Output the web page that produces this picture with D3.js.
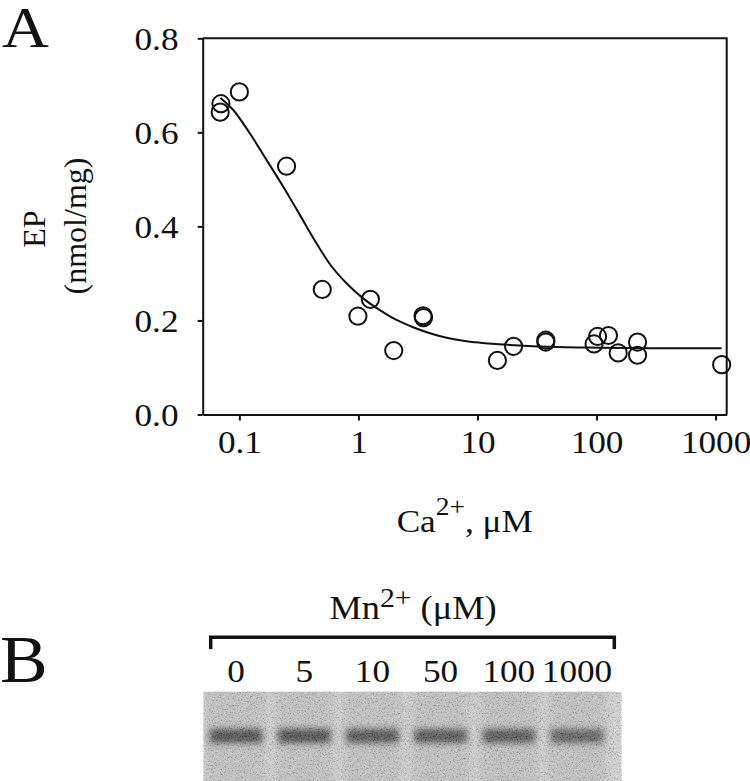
<!DOCTYPE html>
<html>
<head>
<meta charset="utf-8">
<script src="https://cdn.jsdelivr.net/npm/d3@7"></script>
<style>
  html, body { margin: 0; padding: 0; background: #fff; }
  svg { display: block; }
  text { font-family: "Liberation Serif", "Times New Roman", serif; fill: #111; }
</style>
</head>
<body>
<svg id="chart" width="750" height="781"></svg>
<script>
// ---------- Data ----------
// Panel A: measured points, Ca2+ (µM) and EP (nmol/mg)
const caConc = [0.069, 0.070, 0.100, 0.249, 0.497, 0.99, 1.26, 1.98, 3.49, 3.52,
                14.7, 20.1, 37.5, 37.5, 95.3, 102, 126, 152, 221, 221, 1125];
const epValues = [0.643, 0.661, 0.686, 0.528, 0.266, 0.209, 0.245, 0.136, 0.210, 0.206,
                  0.115, 0.145, 0.158, 0.154, 0.150, 0.166, 0.168, 0.131, 0.154, 0.126, 0.106];
// Panel A: fitted curve, sampled along the drawn line
const fitConc = [0.0693, 0.0885, 0.1223, 0.169, 0.233, 0.322, 0.4446, 0.575, 0.794, 1.095,
                 1.514, 2.09, 2.88, 3.98, 5.5, 7.59, 10.5, 18.7, 40, 107, 300, 1125];
const fitEP = [0.673, 0.648, 0.598, 0.5415, 0.4847, 0.4245, 0.364, 0.320, 0.279, 0.247,
               0.222, 0.201, 0.1855, 0.1728, 0.1634, 0.157, 0.1528, 0.148, 0.144, 0.142, 0.141, 0.141];
const xTickValues = [0.1, 1, 10, 100, 1000];
const yTickValues = [0.0, 0.2, 0.4, 0.6, 0.8];
// Panel B: gel lanes (Mn2+, µM) and relative band darkness
const mnLanes = ["0", "5", "10", "50", "100", "1000"];
const bandDarkness = [0.82, 0.82, 0.79, 0.77, 0.74, 0.70];

// ---------- Layout ----------
const svg = d3.select("#chart");
const stretch = 1.1; // horizontal glyph stretch seen in the reference
const plot = { left: 202.7, right: 726.7, top: 38.3, bottom: 414.5 };

const x = d3.scaleLog().domain([0.0492, 1240]).range([plot.left, plot.right]);
const y = d3.scaleLinear().domain([0, 0.8]).range([plot.bottom, plot.top]);

const gA = svg.append("g");

// frame (top & right)
gA.append("path")
  .attr("d", `M${plot.left},${plot.top}H${plot.right}V${plot.bottom}`)
  .attr("fill", "none").attr("stroke", "#111").attr("stroke-width", 2);

// x axis
const xAxis = d3.axisBottom(x).tickValues(xTickValues)
  .tickFormat(d => String(d)).tickSize(6).tickPadding(10).tickSizeOuter(0);
const gx = gA.append("g").attr("transform", `translate(0,${plot.bottom})`).call(xAxis);
gx.select(".domain").attr("stroke", "#111").attr("stroke-width", 2);
gx.selectAll(".tick line").attr("stroke", "#111").attr("stroke-width", 2);
gx.selectAll(".tick text")
  .attr("font-size", 32).attr("font-family", "Liberation Serif").attr("fill", "#111")
  .attr("dy", "0.71em").attr("transform", `scale(${stretch},1)`);

// y axis
const yAxis = d3.axisLeft(y).tickValues(yTickValues)
  .tickFormat(d3.format(".1f")).tickSize(5).tickPadding(17).tickSizeOuter(0);
const gy = gA.append("g").attr("transform", `translate(${plot.left},0)`).call(yAxis);
gy.select(".domain").attr("stroke", "#111").attr("stroke-width", 2);
gy.selectAll(".tick line").attr("stroke", "#111").attr("stroke-width", 2);
gy.selectAll(".tick text")
  .attr("font-size", 32).attr("font-family", "Liberation Serif").attr("fill", "#111")
  .attr("dy", "0.34em").attr("transform", `scale(${stretch},1)`);

// fitted curve
const fit = fitConc.map((c, i) => [c, fitEP[i]]);
gA.append("path")
  .datum(fit)
  .attr("fill", "none").attr("stroke", "#111").attr("stroke-width", 2)
  .attr("d", d3.line().x(d => x(d[0])).y(d => y(d[1])).curve(d3.curveMonotoneX));

// points
const pts = caConc.map((c, i) => [c, epValues[i]]);
gA.append("g").selectAll("circle").data(pts).join("circle")
  .attr("cx", d => x(d[0])).attr("cy", d => y(d[1])).attr("r", 8.6)
  .attr("fill", "none").attr("stroke", "#111").attr("stroke-width", 2);

// axis titles
const xt = gA.append("text")
  .attr("text-anchor", "middle").attr("font-size", 32)
  .attr("transform", `translate(${(plot.left + plot.right) / 2},532) scale(${stretch},1)`);
xt.append("tspan").text("Ca");
xt.append("tspan").attr("font-size", 25).attr("dy", -17).text("2+");
xt.append("tspan").attr("dy", 17).text(", μM");

gA.append("text").attr("text-anchor", "middle").attr("font-size", 32)
  .attr("transform", "translate(45,229) rotate(-90)").text("EP");
gA.append("text").attr("text-anchor", "middle").attr("font-size", 32)
  .attr("transform", "translate(86,226) rotate(-90)").text("(nmol/mg)");

// panel letters
svg.append("text").attr("font-size", 58)
  .attr("transform", `translate(2,47) scale(1.12,1)`).text("A");
svg.append("text").attr("font-size", 68)
  .attr("transform", `translate(0,681.7) scale(1.05,1)`).text("B");

// ---------- Panel B ----------
const gB = svg.append("g");
const lane = d3.scalePoint().domain(mnLanes).range([236, 577]);
const gel = { left: 203.3, right: 621.7, top: 691.7, bottom: 781 };

const mt = gB.append("text").attr("text-anchor", "middle").attr("font-size", 33)
  .attr("transform", `translate(413,619) scale(${stretch},1)`);
mt.append("tspan").text("Mn");
mt.append("tspan").attr("font-size", 27).attr("dy", -12).text("2+");
mt.append("tspan").attr("dy", 12).text(" (μM)");

gB.append("path")
  .attr("d", "M210.7,649V637.3H614.3V649")
  .attr("fill", "none").attr("stroke", "#111").attr("stroke-width", 3.5);

gB.selectAll("text.lane").data(mnLanes).join("text")
  .attr("class", "lane").attr("text-anchor", "middle").attr("font-size", 32)
  .attr("transform", d => `translate(${lane(d)},681.7) scale(${stretch},1)`)
  .text(d => d);

// gel image
const defs = svg.append("defs");
defs.append("clipPath").attr("id", "gelClip").append("rect")
  .attr("x", gel.left).attr("y", gel.top)
  .attr("width", gel.right - gel.left).attr("height", gel.bottom - gel.top);
defs.append("filter").attr("id", "blurLane").attr("x", "-30%").attr("y", "-20%")
  .attr("width", "160%").attr("height", "140%")
  .append("feGaussianBlur").attr("stdDeviation", 4.5);
defs.append("filter").attr("id", "blurBand").attr("x", "-30%").attr("y", "-100%")
  .attr("width", "160%").attr("height", "300%")
  .append("feGaussianBlur").attr("stdDeviation", "3.5,3.2");
const noise = defs.append("filter").attr("id", "noise")
  .attr("x", 0).attr("y", 0).attr("width", "100%").attr("height", "100%");
noise.append("feTurbulence").attr("type", "fractalNoise")
  .attr("baseFrequency", 0.75).attr("numOctaves", 2).attr("seed", 7).attr("result", "t");
noise.append("feColorMatrix").attr("in", "t").attr("type", "matrix")
  .attr("values", "2.2 0 0 0 -0.6  2.2 0 0 0 -0.6  2.2 0 0 0 -0.6  0 0 0 0 0.55");

const gg = gB.append("g").attr("clip-path", "url(#gelClip)");
gg.append("rect").attr("x", gel.left).attr("y", gel.top)
  .attr("width", gel.right - gel.left).attr("height", gel.bottom - gel.top)
  .attr("fill", "#d6d6d6");
gg.selectAll("rect.lanebg").data(mnLanes).join("rect").attr("class", "lanebg")
  .attr("x", d => lane(d) - 30).attr("y", gel.top - 10)
  .attr("width", 60).attr("height", gel.bottom - gel.top + 20)
  .attr("fill", "#c2c2c2").attr("filter", "url(#blurLane)");
const bandColor = d3.interpolateRgb("#cfcfcf", "#1e1e1e");
gg.selectAll("rect.band").data(mnLanes).join("rect").attr("class", "band")
  .attr("x", d => lane(d) - 26).attr("y", 729)
  .attr("width", 52).attr("height", 14)
  .attr("fill", (d, i) => bandColor(bandDarkness[i])).attr("filter", "url(#blurBand)");
gg.append("rect").attr("x", gel.left).attr("y", gel.top)
  .attr("width", gel.right - gel.left).attr("height", gel.bottom - gel.top)
  .attr("filter", "url(#noise)").attr("opacity", 0.45);
</script>
</body>
</html>
